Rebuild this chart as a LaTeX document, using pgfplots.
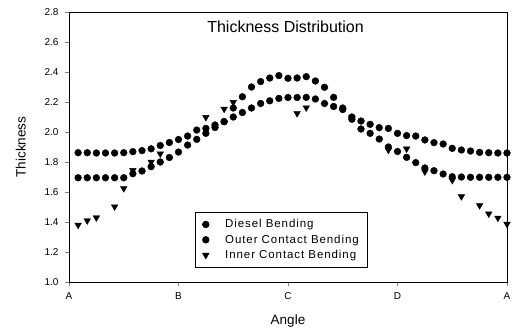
\documentclass[border=0pt]{standalone}
\usepackage{fontspec}
\setmainfont{Liberation Sans}
\usepackage{pgfplots}
\pgfplotsset{compat=1.18}
\usepackage{pgfplotstable}

\pgfplotstableread{
k y
1 1.862
2 1.862
3 1.860
4 1.860
5 1.860
6 1.862
7 1.869
8 1.876
9 1.888
10 1.910
11 1.930
12 1.950
13 1.973
14 2.013
15 2.024
16 2.047
17 2.069
18 2.100
19 2.130
20 2.160
21 2.190
22 2.208
23 2.224
24 2.230
25 2.230
26 2.231
27 2.220
28 2.190
29 2.170
30 2.150
31 2.100
32 2.073
33 2.051
34 2.029
35 2.024
36 1.991
37 1.976
38 1.973
39 1.947
40 1.929
41 1.920
42 1.891
43 1.880
44 1.873
45 1.864
46 1.862
47 1.860
48 1.860
}\diesel

\pgfplotstableread{
k y
1 1.695
2 1.695
3 1.695
4 1.695
5 1.695
6 1.695
7 1.722
8 1.740
9 1.769
10 1.800
11 1.830
12 1.866
13 1.913
14 1.951
15 1.991
16 2.030
17 2.069
18 2.160
19 2.235
20 2.300
21 2.336
22 2.360
23 2.376
24 2.358
25 2.360
26 2.369
27 2.340
28 2.298
29 2.231
30 2.160
31 2.085
32 2.020
33 1.991
34 1.953
35 1.900
36 1.870
37 1.831
38 1.796
39 1.760
40 1.742
41 1.720
42 1.702
43 1.700
44 1.698
45 1.698
46 1.698
47 1.698
48 1.698
}\outer

\pgfplotstableread{
k y
1 1.380
2 1.409
3 1.429
5 1.502
6 1.624
7 1.745
9 1.800
10 1.855
15 2.098
17 2.153
18 2.198
25 2.124
26 2.162
31 2.095
35 1.880
37 1.888
39 1.735
42 1.678
43 1.570
45 1.510
46 1.455
47 1.427
48 1.386
}\inner

\begin{document}
\begin{tikzpicture}
\useasboundingbox (-69pt,-47pt) rectangle (450pt,282pt);
\begin{axis}[
  at={(0,0)}, anchor=south west,
  scale only axis, width=438pt, height=270pt,
  xmin=0, xmax=360, ymin=1.0, ymax=2.8,
  xtick={0,90,180,270,360},
  xticklabels={A,B,C,D,A},
  ytick={1.0,1.2,...,2.8},
  /pgf/number format/fixed,
  /pgf/number format/fixed zerofill,
  /pgf/number format/precision=1,
  /pgf/number format/assume math mode=true,
  tick label style={font=\fontsize{10}{11}\selectfont},
  yticklabel style={xshift=-3pt},
  xticklabel style={yshift=-3pt},
  xtick pos=bottom, ytick pos=left,
  tick align=outside,
  major tick length=4pt,
  axis line style={line width=0.6pt},
  xlabel={Angle}, ylabel={Thickness},
  label style={font=\fontsize{13.5}{15}\selectfont},
  xlabel style={at={(axis description cs:0.5,-0.144)}, anchor=center},
  ylabel style={at={(axis description cs:-0.110,0.5)}, anchor=center},
  legend style={at={(0.288,0.26)}, anchor=north west, draw=black, line width=0.5pt,
    font=\fontsize{11.5}{12.5}\selectfont\addfontfeature{LetterSpace=8},
    inner xsep=7pt, inner ysep=5.5pt, row sep=1.5pt, column sep=14pt,
    nodes={inner sep=2pt}},
  legend cell align=left,
]
\addplot[only marks, mark=*, mark size=3.4pt, black] table[x expr=\thisrow{k}*7.5, y=y] {\diesel};
\addlegendentry{Diesel Bending}
\addplot[only marks, mark=*, mark size=3.4pt, black] table[x expr=\thisrow{k}*7.5, y=y] {\outer};
\addlegendentry{Outer Contact Bending}
\addplot[only marks, mark=triangle*, mark size=3.8pt, black, mark options={rotate=180}] table[x expr=\thisrow{k}*7.5, y=y] {\inner};
\addlegendentry{Inner Contact Bending}
\node[font=\fontsize{16}{18}\selectfont] at (axis cs:178,2.70) {Thickness Distribution};
\end{axis}
\end{tikzpicture}
\end{document}
